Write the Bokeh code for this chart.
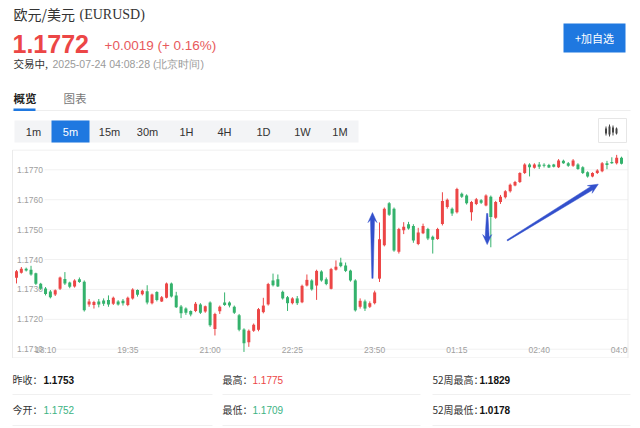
import math
from bokeh.plotting import figure
from bokeh.layouts import column
from bokeh.models import Range1d
from bokeh.embed import file_html
from bokeh.resources import INLINE
from bokeh.core.properties import value

# ---------------- data ----------------
opens = [1.17339, 1.17356, 1.17369, 1.17366, 1.17354, 1.17319, 1.17303, 1.17293, 1.17283, 1.17302,
         1.17335, 1.17323, 1.17310, 1.17334, 1.17326, 1.17250, 1.17248, 1.17260, 1.17263, 1.17265,
         1.17252, 1.17260, 1.17262, 1.17248, 1.17270, 1.17298, 1.17284, 1.17294, 1.17254, 1.17291,
         1.17260, 1.17272, 1.17320, 1.17280, 1.17243, 1.17236, 1.17228, 1.17228, 1.17250, 1.17226,
         1.17256, 1.17168, 1.17227, 1.17256, 1.17256, 1.17242, 1.17214, 1.17166, 1.17123, 1.17162,
         1.17165, 1.17224, 1.17250, 1.17330, 1.17334, 1.17292, 1.17274, 1.17254, 1.17270, 1.17257,
         1.17313, 1.17330, 1.17313, 1.17360, 1.17334, 1.17302, 1.17366, 1.17390, 1.17380, 1.17363,
         1.17330, 1.17242, 1.17260, 1.17242, 1.17254, 1.17336, 1.17448, 1.17588, 1.17570, 1.17426,
         1.17498, 1.17518, 1.17512, 1.17452, 1.17488, 1.17502, 1.17476, 1.17469, 1.17519, 1.17576,
         1.17570, 1.17558, 1.17620, 1.17614, 1.17558, 1.17586, 1.17598, 1.17581, 1.17610, 1.17540,
         1.17592, 1.17608, 1.17628, 1.17648, 1.17659, 1.17689, 1.17718, 1.17707, 1.17718, 1.17716,
         1.17716, 1.17718, 1.17709, 1.17730, 1.17722, 1.17714, 1.17718, 1.17709, 1.17692, 1.17678,
         1.17689, 1.17695, 1.17722, 1.17726, 1.17722, 1.17740]
closes = [1.17361, 1.17369, 1.17363, 1.17350, 1.17319, 1.17302, 1.17285, 1.17274, 1.17297, 1.17340,
          1.17320, 1.17309, 1.17330, 1.17325, 1.17230, 1.17260, 1.17258, 1.17250, 1.17252, 1.17250,
          1.17272, 1.17250, 1.17254, 1.17272, 1.17300, 1.17282, 1.17296, 1.17256, 1.17283, 1.17265,
          1.17274, 1.17320, 1.17276, 1.17240, 1.17220, 1.17222, 1.17216, 1.17252, 1.17222, 1.17244,
          1.17180, 1.17218, 1.17242, 1.17248, 1.17246, 1.17222, 1.17165, 1.17120, 1.17162, 1.17182,
          1.17234, 1.17246, 1.17318, 1.17314, 1.17310, 1.17270, 1.17254, 1.17270, 1.17254, 1.17312,
          1.17332, 1.17300, 1.17362, 1.17330, 1.17318, 1.17368, 1.17376, 1.17378, 1.17362, 1.17330,
          1.17230, 1.17262, 1.17236, 1.17254, 1.17290, 1.17468, 1.17570, 1.17550, 1.17430, 1.17502,
          1.17510, 1.17504, 1.17464, 1.17490, 1.17512, 1.17470, 1.17466, 1.17502, 1.17596, 1.17600,
          1.17554, 1.17636, 1.17610, 1.17588, 1.17592, 1.17602, 1.17590, 1.17614, 1.17542, 1.17592,
          1.17610, 1.17628, 1.17650, 1.17659, 1.17689, 1.17718, 1.17709, 1.17718, 1.17710, 1.17714,
          1.17708, 1.17710, 1.17731, 1.17722, 1.17714, 1.17731, 1.17703, 1.17689, 1.17678, 1.17689,
          1.17698, 1.17722, 1.17716, 1.17722, 1.17740, 1.17720]
highs = [1.17365, 1.17375, 1.17373, 1.17379, 1.17356, 1.17322, 1.17308, 1.17298, 1.17300, 1.17343,
         1.17358, 1.17326, 1.17334, 1.17340, 1.17330, 1.17268, 1.17262, 1.17268, 1.17270, 1.17280,
         1.17276, 1.17264, 1.17268, 1.17276, 1.17304, 1.17300, 1.17299, 1.17314, 1.17286, 1.17294,
         1.17278, 1.17323, 1.17323, 1.17292, 1.17248, 1.17240, 1.17230, 1.17258, 1.17254, 1.17246,
         1.17260, 1.17222, 1.17246, 1.17290, 1.17260, 1.17246, 1.17218, 1.17170, 1.17166, 1.17186,
         1.17238, 1.17272, 1.17322, 1.17353, 1.17350, 1.17296, 1.17278, 1.17274, 1.17278, 1.17316,
         1.17350, 1.17334, 1.17366, 1.17364, 1.17340, 1.17372, 1.17397, 1.17406, 1.17390, 1.17366,
         1.17334, 1.17270, 1.17266, 1.17260, 1.17296, 1.17524, 1.17574, 1.17592, 1.17574, 1.17506,
         1.17525, 1.17526, 1.17518, 1.17506, 1.17520, 1.17506, 1.17480, 1.17506, 1.17625, 1.17604,
         1.17574, 1.17640, 1.17624, 1.17618, 1.17596, 1.17606, 1.17602, 1.17618, 1.17614, 1.17596,
         1.17616, 1.17632, 1.17654, 1.17663, 1.17692, 1.17722, 1.17722, 1.17722, 1.17726, 1.17722,
         1.17720, 1.17720, 1.17736, 1.17734, 1.17726, 1.17736, 1.17722, 1.17712, 1.17695, 1.17692,
         1.17702, 1.17726, 1.17730, 1.17742, 1.17750, 1.17744]
lows = [1.17320, 1.17353, 1.17360, 1.17346, 1.17315, 1.17298, 1.17280, 1.17270, 1.17278, 1.17298,
        1.17315, 1.17304, 1.17306, 1.17322, 1.17226, 1.17242, 1.17236, 1.17240, 1.17245, 1.17242,
        1.17248, 1.17246, 1.17246, 1.17244, 1.17266, 1.17276, 1.17280, 1.17250, 1.17250, 1.17260,
        1.17258, 1.17270, 1.17273, 1.17238, 1.17204, 1.17215, 1.17210, 1.17224, 1.17218, 1.17222,
        1.17175, 1.17146, 1.17218, 1.17245, 1.17240, 1.17218, 1.17160, 1.17091, 1.17108, 1.17158,
        1.17160, 1.17220, 1.17246, 1.17310, 1.17308, 1.17266, 1.17228, 1.17250, 1.17248, 1.17254,
        1.17310, 1.17296, 1.17265, 1.17326, 1.17314, 1.17300, 1.17363, 1.17374, 1.17358, 1.17326,
        1.17226, 1.17236, 1.17228, 1.17238, 1.17250, 1.17325, 1.17444, 1.17546, 1.17426, 1.17420,
        1.17485, 1.17500, 1.17456, 1.17448, 1.17485, 1.17465, 1.17420, 1.17466, 1.17514, 1.17570,
        1.17546, 1.17554, 1.17606, 1.17584, 1.17530, 1.17582, 1.17586, 1.17578, 1.17441, 1.17536,
        1.17586, 1.17604, 1.17624, 1.17645, 1.17656, 1.17686, 1.17678, 1.17704, 1.17703, 1.17708,
        1.17706, 1.17708, 1.17706, 1.17720, 1.17710, 1.17710, 1.17700, 1.17686, 1.17674, 1.17675,
        1.17686, 1.17692, 1.17702, 1.17720, 1.17718, 1.17718]

time_tick_index = [6, 23, 40, 57, 74, 91, 108, 125]
time_tick_labels = ["18:10", "19:35", "21:00", "22:25", "23:50", "01:15", "02:40", "04:05"]
price_ticks = [1.1710, 1.1720, 1.1730, 1.1740, 1.1750, 1.1760, 1.1770]
price_tick_labels = ["1.1710", "1.1720", "1.1730", "1.1740", "1.1750", "1.1760", "1.1770"]

periods = ["1m", "5m", "15m", "30m", "1H", "4H", "1D", "1W", "1M"]
active_period = "5m"

stat_names = ["昨收：", "最高：", "52周最高：", "今开：", "最低：", "52周最低："]
stat_values = ["1.1753", "1.1775", "1.1829", "1.1752", "1.1709", "1.0178"]
stat_kind = ["plain", "up", "plain", "down", "down", "plain"]

# hand-drawn annotation arrows: (candle index, price) tail -> tip
arrows = [
    (73.55, 1.17337, 73.55, 1.17557),
    (97.25, 1.17554, 97.25, 1.17450),
    (101.4, 1.17464, 120.2, 1.17652),
]

# ---------------- style ----------------
RED = "#ec4646"
GREEN = "#34b26c"
STAT_GREEN = "#3cb383"
BTN_BLUE = "#1f78e0"
ARROW_BLUE = "#3350cc"
CJK = "Noto Sans CJK SC"
LAT = "Liberation Sans"
W = 640


def T(p, x, y, s, size, color="#333333", font=LAT, style="normal", align="left"):
    p.text(x=[x], y=[y], text=[s], text_font=value(font), text_font_size=size,
           text_color=color, text_font_style=style, text_align=align,
           text_baseline="middle")


def pixel_fig(h):
    p = figure(width=W, height=h, x_range=Range1d(0, W), y_range=Range1d(h, 0),
               x_axis_location=None, y_axis_location=None, toolbar_location=None,
               output_backend="svg", min_border=0, outline_line_color=None)
    p.grid.visible = False
    return p


# ---------------- header ----------------
HH = 149
hd = pixel_fig(HH)

T(hd, 13, 13, "欧元/美元", "14px", "#333333", CJK)
T(hd, 79, 13.5, "(EURUSD)", "14px", "#333333", "Liberation Serif")
T(hd, 12, 43, "1.1772", "25px", RED, LAT, "bold")
T(hd, 104, 45, "+0.0019 (+ 0.16%)", "13.5px", "#e85a5c", LAT)
T(hd, 13, 63, "交易中,", "10.5px", "#333333", CJK)
T(hd, 52, 63, "2025-07-24 04:08:28 (北京时间)", "10.5px", "#9a9a9a", LAT)

T(hd, 13, 97, "概览", "11.5px", "#222222", CJK, "bold")
T(hd, 63, 97, "图表", "11.5px", "#777777", CJK)
hd.quad(left=[12], right=[630], top=[109.5], bottom=[110.5],
        fill_color="#eeeeee", line_color=None)
hd.quad(left=[13], right=[35], top=[108], bottom=[110.5],
        fill_color=BTN_BLUE, line_color=None)

# add-to-watchlist button
hd.quad(left=[563], right=[625], top=[23], bottom=[52],
        fill_color=BTN_BLUE, line_color=None)
T(hd, 594, 37.5, "+加自选", "11px", "#ffffff", CJK, align="center")

# period selector
hd.quad(left=[14], right=[358], top=[120], bottom=[142],
        fill_color="#f3f4f6", line_color=None)
period_centers = [33, 70, 109, 147, 186, 224, 263, 302, 339.5]
for name, cx in zip(periods, period_centers):
    if name == active_period:
        hd.quad(left=[cx - 19], right=[cx + 19], top=[120], bottom=[142],
                fill_color=BTN_BLUE, line_color=None)
        T(hd, cx, 131, name, "11px", "#ffffff", LAT, align="center")
    else:
        T(hd, cx, 131, name, "11px", "#333333", LAT, align="center")

# chart-type icon
hd.quad(left=[598], right=[626], top=[118], bottom=[142],
        fill_color="#ffffff", line_color="#e6e6e6")
ix = [605.5, 609, 612.5, 616]
ib = [(128, 133), (126, 134), (127, 132), (128, 133)]
iw = [(126, 135), (124, 136), (125, 135), (127, 134)]
hd.segment(x0=ix, x1=ix, y0=[a for a, b in iw], y1=[b for a, b in iw],
           line_color="#444444", line_width=1)
hd.quad(left=[v - 1 for v in ix], right=[v + 1 for v in ix],
        top=[a for a, b in ib], bottom=[b for a, b in ib],
        fill_color="#444444", line_color=None)

# ---------------- candlestick chart ----------------
CH = 209
PXI = 4.84                      # px per candle
x_lo = -16 / PXI                # first candle sits 16px from the page's left edge
x_hi = x_lo + W / PXI
y_lo, y_hi = 1.17069, 1.17768
ch = figure(width=W, height=CH, x_range=Range1d(x_lo, x_hi), y_range=Range1d(y_lo, y_hi),
            x_axis_location=None, y_axis_location=None, toolbar_location=None,
            output_backend="svg", min_border=0, outline_line_color=None)
ch.grid.visible = False
sx = W / (x_hi - x_lo)
sy = CH / (y_hi - y_lo)
box_l, box_r = x_lo + 12 / sx, x_lo + 627.5 / sx
box_b, box_t = y_lo + 0.5 / sy, y_hi - 0.5 / sy

n_t = len(price_ticks)
ch.segment(x0=[x_lo + 44 / sx] * n_t, x1=[box_r] * n_t, y0=price_ticks, y1=price_ticks,
           line_color="#f1f1f1", line_width=1)
ch.text(x=[x_lo + 16.5 / sx] * n_t, y=price_ticks, text=price_tick_labels,
        text_font=value(LAT), text_font_size="8.5px", text_color="#a0a0a0",
        text_align="left", text_baseline="middle")
ch.text(x=time_tick_index, y=[y_lo + 9 / sy] * len(time_tick_index), text=time_tick_labels,
        text_font=value(LAT), text_font_size="8.5px", text_color="#a0a0a0",
        text_align="center", text_baseline="middle")

idx = list(range(len(opens)))
colors = [RED if c >= o else GREEN for o, c in zip(opens, closes)]
min_h = 1.0 / sy
bots = [min(o, c) for o, c in zip(opens, closes)]
tops = [max(max(o, c), b + min_h) for o, c, b in zip(opens, closes, bots)]
ch.segment(x0=idx, x1=idx, y0=lows, y1=highs, line_color=colors, line_width=1)
ch.vbar(x=idx, width=0.62, top=tops, bottom=bots, fill_color=colors, line_color=None)


def arrow_poly(x0, y0, x1, y1, w_tail=0.6, w_neck=2.0, w_head=4.5, head_len=10.0, notch=2.5):
    X0, Y0, X1, Y1 = x0 * sx, y0 * sy, x1 * sx, y1 * sy
    dx, dy = X1 - X0, Y1 - Y0
    L = math.hypot(dx, dy)
    ux, uy = dx / L, dy / L
    nx, ny = -uy, ux
    bx, by = X1 - ux * head_len, Y1 - uy * head_len
    kx, ky = bx + ux * notch, by + uy * notch
    pts = [
        (X0 + nx * w_tail, Y0 + ny * w_tail),
        (kx + nx * w_neck, ky + ny * w_neck),
        (bx + nx * w_head, by + ny * w_head),
        (X1, Y1),
        (bx - nx * w_head, by - ny * w_head),
        (kx - nx * w_neck, ky - ny * w_neck),
        (X0 - nx * w_tail, Y0 - ny * w_tail),
    ]
    return [p[0] / sx for p in pts], [p[1] / sy for p in pts]


for a in arrows:
    xs, ys = arrow_poly(*a)
    ch.patch(xs, ys, fill_color=ARROW_BLUE, line_color=ARROW_BLUE, line_width=0.5)

# container edge: hide anything beyond the right border, then draw the border box
ch.quad(left=[box_r], right=[x_hi], bottom=[y_lo], top=[y_hi],
        fill_color="#ffffff", line_color=None)
ch.quad(left=[box_l], right=[box_r], bottom=[box_b], top=[box_t],
        fill_color=None, line_color="#ebebeb", line_width=1)

# ---------------- footer stats ----------------
FH = 69
ft = pixel_fig(FH)
FY = lambda v: v - 358
col_x = [12, 222, 432]
val_x = [43, 252, 479]
row_y = [379, 409]
for k, (nm, vl, kind) in enumerate(zip(stat_names, stat_values, stat_kind)):
    r, cidx = divmod(k, 3)
    T(ft, col_x[cidx], FY(row_y[r]), nm, "10px", "#333333", CJK)
    if kind == "up":
        T(ft, val_x[cidx], FY(row_y[r]), vl, "10px", RED, LAT)
    elif kind == "down":
        T(ft, val_x[cidx], FY(row_y[r]), vl, "10px", STAT_GREEN, LAT)
    else:
        T(ft, val_x[cidx], FY(row_y[r]), vl, "10px", "#111111", LAT, "bold")
sep_y = [394, 394, 394, 425, 425, 425]
ft.segment(x0=[12, 222, 432] * 2, x1=[212, 420, 630] * 2,
           y0=[FY(v) for v in sep_y], y1=[FY(v) for v in sep_y],
           line_color="#f0f0f0", line_width=1)

layout = column(hd, ch, ft, spacing=0)
open("out.html", "w").write(file_html(layout, INLINE))
